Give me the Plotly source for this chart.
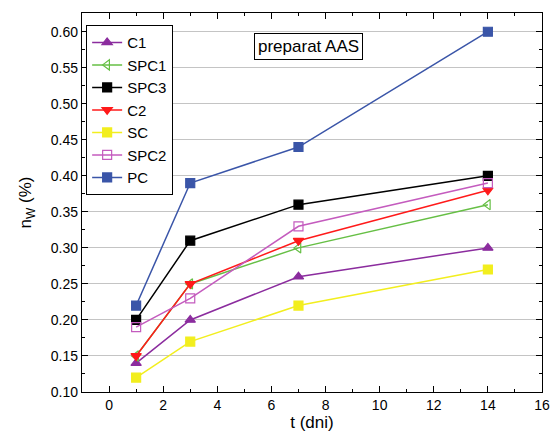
import plotly.graph_objects as go

t_days = [1, 3, 7, 14]
C1 = [0.14, 0.20, 0.26, 0.30]
SPC1 = [0.15, 0.25, 0.30, 0.36]
SPC3 = [0.20, 0.31, 0.36, 0.40]
C2 = [0.15, 0.25, 0.31, 0.38]
SC = [0.12, 0.17, 0.22, 0.27]
SPC2 = [0.19, 0.23, 0.33, 0.39]
PC = [0.22, 0.39, 0.44, 0.60]

series = [
    ("C1", C1, "#8B2C9E", "triangle-up"),
    ("SPC1", SPC1, "#66BF45", "triangle-left-open"),
    ("SPC3", SPC3, "#000000", "square"),
    ("C2", C2, "#FF1A1A", "triangle-down"),
    ("SC", SC, "#F2EE1E", "square"),
    ("SPC2", SPC2, "#C45BBE", "square-open"),
    ("PC", PC, "#3A55A8", "square"),
]

fig = go.Figure()
for name, vals, col, sym in series:
    fig.add_trace(go.Scatter(
        x=t_days, y=vals, name=name, mode="lines+markers",
        line=dict(color=col, width=1.5),
        marker=dict(symbol=sym, size=9, color=col, line=dict(color=col, width=1.2)),
    ))

fig.add_annotation(
    x=7.36, y=0.579, xref="x", yref="y", text="preparat AAS", showarrow=False,
    font=dict(size=17, color="black", family="Liberation Sans, Arial"),
    bordercolor="black", borderwidth=1, borderpad=3, bgcolor="white",
)

axis_common = dict(
    showline=True, linecolor="black", linewidth=1.3, mirror="allticks",
    ticks="inside", ticklen=6, tickcolor="black",
    tickfont=dict(size=14, color="black", family="Liberation Sans, Arial"),
    zeroline=False,
)

fig.update_xaxes(
    range=[-1, 16], dtick=2, tick0=0, showgrid=False,
    minor=dict(ticks="inside", dtick=1, ticklen=3, tickcolor="black", showgrid=False),
    title=dict(text="t (dni)", font=dict(size=17, color="black", family="Liberation Sans, Arial"), standoff=2),
    **axis_common,
)
fig.update_yaxes(
    range=[0.10, 0.626], dtick=0.05, tick0=0.10, tickformat=".2f",
    showgrid=True, gridcolor="#C4C4C4", gridwidth=1,
    minor=dict(ticks="inside", dtick=0.025, ticklen=3, tickcolor="black", showgrid=False),
    title=dict(text="n<sub>W</sub> (%)", font=dict(size=17, color="black", family="Liberation Sans, Arial"), standoff=14),
    **axis_common,
)

fig.update_layout(
    width=559, height=436,
    margin=dict(l=82, r=9, t=13, b=42),
    plot_bgcolor="white", paper_bgcolor="white",
    font=dict(family="Liberation Sans, Arial", color="black"),
    legend=dict(
        x=0.009, y=0.968, xanchor="left", yanchor="top",
        bgcolor="white", bordercolor="black", borderwidth=1,
        font=dict(size=15, color="black"), tracegroupgap=0,
        itemwidth=30,
    ),
    showlegend=True,
)

fig.write_html("out.html")
